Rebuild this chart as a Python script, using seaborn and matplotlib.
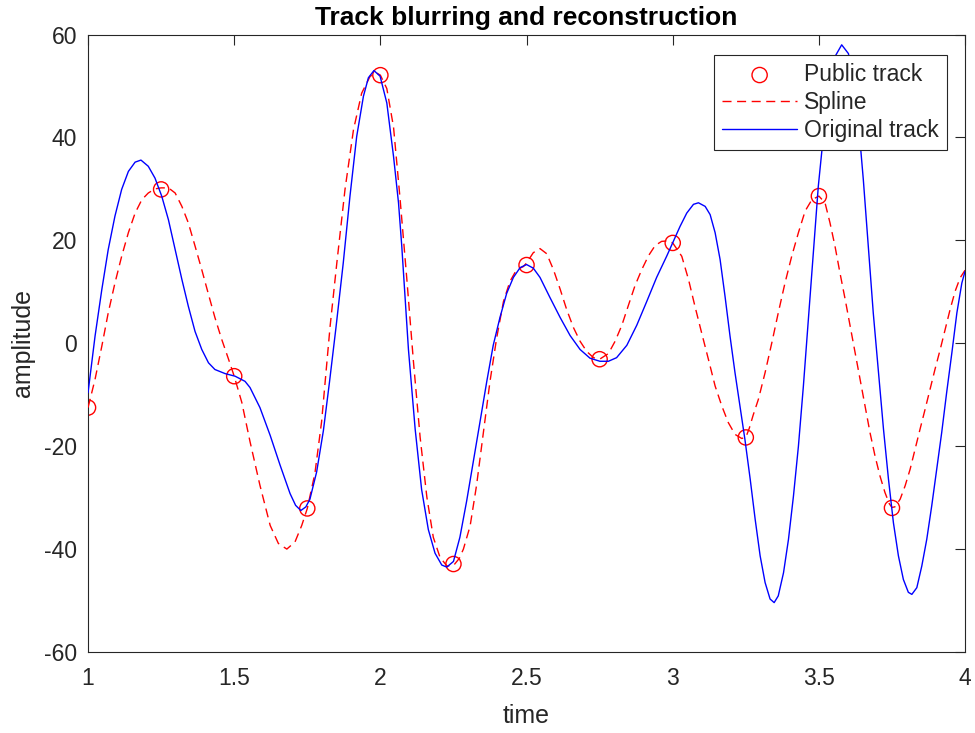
import pandas as pd
import matplotlib
matplotlib.use('Agg')
import matplotlib.pyplot as plt
from matplotlib.ticker import FormatStrFormatter
import seaborn as sns

# public (blurred) samples
pub_t = [1.0, 1.25, 1.5, 1.75, 2.0, 2.25, 2.5, 2.75, 3.0, 3.25, 3.5, 3.75]
pub_y = [-12.5, 29.9, -6.4, -32.1, 52.1, -42.9, 15.2, -3.1, 19.5, -18.3, 28.6, -32.0]

# spline reconstruction
spline_t = [1.000, 1.024, 1.047, 1.069, 1.092, 1.115, 1.138, 1.161, 1.184, 1.206,
            1.229, 1.250, 1.275, 1.298, 1.321, 1.343, 1.366, 1.389, 1.412, 1.434,
            1.457, 1.480, 1.500, 1.526, 1.554, 1.588, 1.623, 1.651, 1.680, 1.708,
            1.731, 1.750, 1.776, 1.799, 1.828, 1.851, 1.879, 1.908, 1.936, 1.965,
            1.988, 2.000, 2.022, 2.045, 2.067, 2.090, 2.113, 2.136, 2.159, 2.181,
            2.204, 2.228, 2.250, 2.270, 2.284, 2.307, 2.329, 2.352, 2.375, 2.398,
            2.421, 2.443, 2.466, 2.489, 2.500, 2.523, 2.546, 2.569, 2.592, 2.615,
            2.637, 2.660, 2.683, 2.706, 2.729, 2.750, 2.780, 2.803, 2.826, 2.848,
            2.871, 2.894, 2.917, 2.940, 2.962, 2.985, 3.000, 3.031, 3.054, 3.076,
            3.099, 3.122, 3.145, 3.168, 3.190, 3.213, 3.236, 3.250, 3.262, 3.275,
            3.293, 3.316, 3.339, 3.361, 3.384, 3.407, 3.430, 3.453, 3.476, 3.500,
            3.521, 3.538, 3.555, 3.572, 3.590, 3.607, 3.624, 3.641, 3.658, 3.675,
            3.692, 3.709, 3.726, 3.741, 3.750, 3.760, 3.778, 3.795, 3.812, 3.829,
            3.846, 3.863, 3.880, 3.897, 3.915, 3.932, 3.949, 3.966, 3.983, 4.000]
spline_y = [-12.5, -7.0, -0.6, 5.9, 11.7, 16.9, 21.5, 25.3, 27.9, 29.2,
            30.0, 30.2, 30.2, 29.2, 26.6, 23.4, 18.9, 14.3, 9.5, 5.0,
            0.8, -3.0, -6.4, -11.5, -19.1, -27.6, -35.4, -38.9, -40.0, -38.6,
            -35.4, -32.1, -25.3, -15.2, 3.3, 15.6, 29.9, 41.5, 48.6, 51.9,
            52.5, 52.1, 49.5, 42.0, 28.3, 12.8, -3.5, -18.3, -29.9, -37.7,
            -41.6, -43.3, -43.2, -41.8, -40.0, -35.5, -27.6, -17.5, -7.4, 1.1,
            8.1, 12.0, 14.3, 14.9, 15.6, 17.6, 18.4, 17.4, 14.3, 10.5,
            6.6, 3.1, 0.4, -1.6, -2.8, -3.1, -2.0, 0.4, 3.5, 7.3,
            11.2, 14.3, 17.0, 19.0, 19.8, 19.9, 19.5, 16.9, 12.4, 7.2,
            2.0, -3.1, -8.3, -12.2, -15.4, -17.7, -18.5, -18.3, -16.5, -14.0,
            -10.9, -5.7, 0.1, 5.9, 11.7, 16.9, 21.5, 25.7, 27.9, 28.6,
            27.3, 23.4, 18.9, 13.7, 8.5, 3.3, -1.8, -7.0, -12.2, -17.4,
            -21.9, -25.8, -29.0, -31.2, -31.9, -31.8, -30.3, -27.7, -24.5, -20.6,
            -16.7, -12.9, -9.0, -5.1, -1.2, 2.7, 6.6, 10.1, 12.7, 14.2]

# original track
orig_t = [1.000, 1.024, 1.047, 1.069, 1.092, 1.115, 1.138, 1.161, 1.181, 1.206,
          1.229, 1.252, 1.275, 1.298, 1.321, 1.343, 1.366, 1.389, 1.412, 1.434,
          1.469, 1.503, 1.537, 1.554, 1.588, 1.623, 1.657, 1.691, 1.710, 1.728,
          1.745, 1.759, 1.782, 1.805, 1.826, 1.848, 1.873, 1.896, 1.919, 1.942,
          1.959, 1.978, 1.999, 2.022, 2.045, 2.062, 2.073, 2.096, 2.119, 2.141,
          2.164, 2.187, 2.210, 2.227, 2.250, 2.272, 2.295, 2.318, 2.341, 2.364,
          2.386, 2.409, 2.432, 2.455, 2.478, 2.500, 2.523, 2.546, 2.580, 2.615,
          2.649, 2.683, 2.717, 2.751, 2.780, 2.808, 2.843, 2.877, 2.911, 2.945,
          2.980, 3.002, 3.025, 3.048, 3.071, 3.088, 3.111, 3.128, 3.145, 3.162,
          3.179, 3.196, 3.213, 3.230, 3.247, 3.265, 3.282, 3.299, 3.316, 3.333,
          3.347, 3.361, 3.379, 3.396, 3.413, 3.430, 3.447, 3.464, 3.481, 3.498,
          3.521, 3.538, 3.556, 3.578, 3.601, 3.618, 3.635, 3.652, 3.669, 3.686,
          3.704, 3.721, 3.738, 3.755, 3.772, 3.789, 3.806, 3.818, 3.835, 3.852,
          3.869, 3.886, 3.903, 3.920, 3.937, 3.955, 3.972, 3.989, 4.000]
orig_y = [-9.6, 1.4, 10.4, 18.2, 24.7, 29.9, 33.4, 35.2, 35.6, 34.4,
          32.1, 28.6, 24.0, 18.2, 12.4, 7.2, 2.3, -1.2, -3.8, -5.1,
          -5.9, -6.4, -7.4, -8.6, -12.5, -17.9, -23.7, -29.2, -31.5, -32.5,
          -31.8, -30.3, -25.0, -17.0, -7.5, 3.0, 15.6, 28.6, 40.2, 48.0,
          51.6, 53.0, 51.9, 46.7, 36.3, 27.3, 19.0, -1.2, -16.7, -28.4,
          -36.2, -40.8, -43.1, -43.5, -42.4, -37.7, -30.7, -23.0, -15.2, -7.4,
          -0.4, 5.0, 9.7, 12.8, 14.7, 15.3, 14.6, 12.8, 8.9, 5.0,
          1.5, -1.2, -2.9, -3.5, -3.5, -2.8, -0.4, 3.5, 8.1, 12.8,
          17.0, 19.8, 22.7, 25.3, 27.0, 27.3, 26.6, 25.0, 21.5, 16.3,
          9.1, 1.4, -5.7, -12.2, -18.7, -26.4, -34.2, -41.3, -46.5, -49.7,
          -50.4, -49.1, -44.6, -38.1, -29.7, -20.0, -8.3, 4.6, 17.6, 30.5,
          43.5, 51.0, 55.8, 58.0, 56.3, 51.6, 43.1, 31.8, 18.9, 5.9,
          -5.7, -16.7, -26.4, -34.9, -41.3, -45.9, -48.4, -48.8, -47.5, -43.3,
          -38.1, -31.6, -24.5, -17.4, -9.6, -1.8, 5.9, 11.7, 14.0]

pub = pd.DataFrame({'t': pub_t, 'y': pub_y})
spl = pd.DataFrame({'t': spline_t, 'y': spline_y})
org = pd.DataFrame({'t': orig_t, 'y': orig_y})

sns.set_style('white')
plt.rcParams['font.family'] = ['Liberation Sans', 'DejaVu Sans']
plt.rcParams['axes.unicode_minus'] = False

dark = '#262626'
fig = plt.figure(figsize=(9.75, 7.33), dpi=100)
ax = fig.add_axes([0.0903, 0.1105, 0.8995, 0.8424])

sns.scatterplot(data=pub, x='t', y='y', ax=ax, marker='o', s=120,
                facecolors='none', edgecolor='#ff0000', linewidth=1.0,
                label='Public track', zorder=2)
sns.lineplot(data=spl, x='t', y='y', ax=ax, sort=False, estimator=None,
             color='#ff0000', lw=1.0, linestyle=(0, (6.5, 4)),
             label='Spline', zorder=3)
sns.lineplot(data=org, x='t', y='y', ax=ax, sort=False, estimator=None,
             color='#0000ff', lw=1.0, label='Original track', zorder=4)

ax.set_xlim(1, 4)
ax.set_ylim(-60, 60)
ax.set_xticks([1, 1.5, 2, 2.5, 3, 3.5, 4])
ax.set_yticks(range(-60, 61, 20))
ax.xaxis.set_major_formatter(FormatStrFormatter('%g'))
ax.tick_params(direction='in', length=7, width=0.8, top=True, right=True,
               labelsize=16.5, colors=dark)
ax.tick_params(axis='x', pad=11)
ax.tick_params(axis='y', pad=8)
for s in ax.spines.values():
    s.set_color(dark)
    s.set_linewidth(0.8)

ax.set_xlabel('time', fontsize=18, color=dark, labelpad=10)
ax.set_ylabel('amplitude', fontsize=18, color=dark, labelpad=6)
ax.set_title('Track blurring and reconstruction', fontsize=19,
             fontweight='bold', color='black', pad=7)

handles, labels = ax.get_legend_handles_labels()
order = ['Public track', 'Spline', 'Original track']
hmap = dict(zip(labels, handles))
leg = ax.legend([hmap[k] for k in order], order, loc='upper right',
                bbox_to_anchor=(0.9795, 0.9668), borderaxespad=0,
                fontsize=16.5, frameon=True, fancybox=False, framealpha=1,
                edgecolor=dark, handlelength=3.3, handletextpad=0.3,
                labelspacing=0.22, borderpad=0.35)
leg.get_frame().set_linewidth(0.8)

fig.savefig('out.png', dpi=100)
